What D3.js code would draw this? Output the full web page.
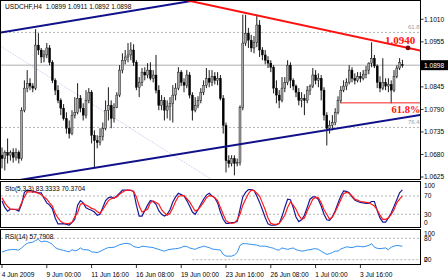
<!DOCTYPE html>
<html>
<head>
<meta charset="utf-8">
<script src="https://d3js.org/d3.v7.min.js"></script>
<style>
    body { margin: 0; background: #fff; }
    svg { display: block; font-family: "Liberation Sans", Arial, sans-serif; }
    .lbl { font-size: 6.6px; fill: #000; white-space: pre; }
    .lvl { stroke: #b4b4b4; stroke-dasharray: 2,2; stroke-width: 1; fill: none; }
    .frame { fill: none; stroke: #000; stroke-width: 1; }
</style>
</head>
<body>
<svg width="448" height="280"></svg>
<script>
// USDCHF H4, one value per bar (bar 0 = 4 Jun 2009 08:00)
var opens = [1.0678,1.0670,1.0685,1.0678,1.0685,1.0673,1.0685,1.0670,1.0788,1.0842,
    1.0854,1.0847,1.0842,1.0947,1.0935,1.0918,1.0923,1.0940,1.0905,1.0861,
    1.0837,1.0812,1.0793,1.0768,1.0744,1.0731,1.0776,1.0783,1.0817,1.0793,
    1.0776,1.0812,1.0832,1.0727,1.0714,1.0709,1.0724,1.0744,1.0788,1.0800,
    1.0768,1.0795,1.0825,1.0886,1.0910,1.0918,1.0923,1.0935,1.0905,1.0844,
    1.0856,1.0881,1.0874,1.0886,1.0866,1.0874,1.0837,1.0800,1.0812,1.0788,
    1.0798,1.0805,1.0825,1.0842,1.0881,1.0856,1.0849,1.0874,1.0825,1.0788,
    1.0800,1.0812,1.0832,1.0849,1.0866,1.0856,1.0871,1.0861,1.0866,1.0817,
    1.0751,1.0665,1.0658,1.0670,1.0658,1.0660,1.0795,1.0952,1.0976,1.0959,
    1.0940,1.0954,1.0996,1.0935,1.0923,1.0910,1.0903,1.0893,1.0842,1.0825,
    1.0812,1.0842,1.0856,1.0898,1.0861,1.0847,1.0832,1.0812,1.0817,1.0812,
    1.0837,1.0847,1.0874,1.0861,1.0866,1.0837,1.0776,1.0744,1.0751,1.0758,
    1.0783,1.0812,1.0837,1.0847,1.0856,1.0886,1.0866,1.0861,1.0871,1.0866,
    1.0876,1.0886,1.0903,1.0915,1.0896,1.0856,1.0842,1.0856,1.0847,1.0851,
    1.0837,1.0871,1.0891,1.0899];
var highs = [1.0697,1.0690,1.0719,1.0690,1.0695,1.0695,1.0690,1.0795,1.0861,1.0886,
    1.0866,1.0854,1.0986,1.0976,1.0940,1.0935,1.0952,1.0947,1.0910,1.0866,
    1.0849,1.0817,1.0803,1.0783,1.0763,1.0788,1.0820,1.0854,1.0825,1.0805,
    1.0837,1.0842,1.0837,1.0739,1.0727,1.0744,1.0758,1.0812,1.0844,1.0812,
    1.0805,1.0832,1.0898,1.0927,1.0935,1.0952,1.0954,1.0949,1.0910,1.0869,
    1.0891,1.0893,1.0903,1.0905,1.0886,1.0923,1.0849,1.0825,1.0820,1.0812,
    1.0820,1.0849,1.0854,1.0893,1.0886,1.0866,1.0886,1.0881,1.0832,1.0820,
    1.0822,1.0842,1.0861,1.0891,1.0886,1.0886,1.0881,1.0881,1.0874,1.0825,
    1.0758,1.0678,1.0678,1.0678,1.0670,1.0800,1.1021,1.1021,1.0989,1.0972,
    1.0969,1.1021,1.1008,1.0942,1.0935,1.0920,1.0910,1.0898,1.0861,1.0837,
    1.0869,1.0869,1.0910,1.0905,1.0866,1.0851,1.0842,1.0832,1.0827,1.0847,
    1.0851,1.0891,1.0886,1.0878,1.0874,1.0844,1.0783,1.0763,1.0776,1.0793,
    1.0822,1.0847,1.0861,1.0866,1.0898,1.0893,1.0878,1.0881,1.0881,1.0886,
    1.0896,1.0905,1.0954,1.0923,1.0900,1.0871,1.0915,1.0866,1.0866,1.0861,
    1.0886,1.0898,1.0915,1.0911];
var lows = [1.0646,1.0641,1.0658,1.0665,1.0660,1.0665,1.0658,1.0665,1.0783,1.0832,
    1.0837,1.0832,1.0837,1.0923,1.0903,1.0905,1.0915,1.0898,1.0854,1.0825,
    1.0805,1.0776,1.0763,1.0731,1.0719,1.0727,1.0768,1.0778,1.0783,1.0763,
    1.0768,1.0805,1.0707,1.0648,1.0695,1.0702,1.0714,1.0739,1.0763,1.0744,
    1.0758,1.0793,1.0820,1.0878,1.0900,1.0905,1.0910,1.0896,1.0837,1.0820,
    1.0847,1.0861,1.0866,1.0861,1.0856,1.0829,1.0788,1.0788,1.0763,1.0768,
    1.0763,1.0758,1.0812,1.0837,1.0847,1.0832,1.0842,1.0817,1.0763,1.0783,
    1.0793,1.0805,1.0825,1.0842,1.0844,1.0847,1.0851,1.0849,1.0812,1.0731,
    1.0636,1.0648,1.0651,1.0629,1.0651,1.0653,1.0788,1.0945,1.0940,1.0930,
    1.0927,1.0942,1.0918,1.0910,1.0900,1.0891,1.0881,1.0829,1.0805,1.0793,
    1.0807,1.0832,1.0849,1.0842,1.0837,1.0820,1.0800,1.0795,1.0776,1.0805,
    1.0825,1.0842,1.0851,1.0844,1.0812,1.0763,1.0702,1.0731,1.0739,1.0751,
    1.0778,1.0805,1.0832,1.0837,1.0851,1.0856,1.0851,1.0856,1.0856,1.0861,
    1.0866,1.0876,1.0893,1.0891,1.0842,1.0832,1.0837,1.0837,1.0832,1.0805,
    1.0832,1.0866,1.0886,1.0892];
var closes = [1.0670,1.0685,1.0678,1.0685,1.0673,1.0685,1.0670,1.0788,1.0842,1.0854,
    1.0847,1.0842,1.0947,1.0935,1.0918,1.0923,1.0940,1.0905,1.0861,1.0837,
    1.0812,1.0793,1.0768,1.0744,1.0731,1.0776,1.0783,1.0817,1.0793,1.0776,
    1.0812,1.0832,1.0727,1.0714,1.0709,1.0724,1.0744,1.0788,1.0800,1.0768,
    1.0795,1.0825,1.0886,1.0910,1.0918,1.0923,1.0935,1.0905,1.0844,1.0856,
    1.0881,1.0874,1.0886,1.0866,1.0874,1.0837,1.0800,1.0812,1.0788,1.0798,
    1.0805,1.0825,1.0842,1.0881,1.0856,1.0849,1.0874,1.0825,1.0788,1.0800,
    1.0812,1.0832,1.0849,1.0866,1.0856,1.0871,1.0861,1.0866,1.0817,1.0751,
    1.0665,1.0658,1.0670,1.0658,1.0660,1.0795,1.0952,1.0976,1.0959,1.0940,
    1.0954,1.0996,1.0935,1.0923,1.0910,1.0903,1.0893,1.0842,1.0825,1.0812,
    1.0842,1.0856,1.0898,1.0861,1.0847,1.0832,1.0812,1.0817,1.0812,1.0837,
    1.0847,1.0874,1.0861,1.0866,1.0837,1.0776,1.0744,1.0751,1.0758,1.0783,
    1.0812,1.0837,1.0847,1.0856,1.0886,1.0866,1.0861,1.0871,1.0866,1.0876,
    1.0886,1.0903,1.0915,1.0896,1.0856,1.0842,1.0856,1.0847,1.0851,1.0837,
    1.0871,1.0891,1.0905,1.0898];

// Stochastic(5,3,3): %K and %D
var stochK = [59,45,37,41,41,40,37,52,78,83, 82,81,79,77,77,65,55,50,42,22,
    9,9,9.5,8,6.5,12,19,50,60,55, 44,41,39,35,28,30,45,60,66,68,
    65,70,76,83,83,83,82,80,50,26, 26,38,50,60,58,52,38,30,26,30,
    40,57,68,76,73,70,60,48,35,30, 40,52,63,72,76,70,66,55,35,19,
    10,10,12,12,14,41,68,78,84,84, 82,70,56,40,23,9,6,6,7,10,
    25,45,63,62,45,24,14,18,28,45, 63,68,68,62,48,30,18,17,25,38,
    54,70,81,80,77,68,61,58,56,55, 54,54,58,58,38,22,13,13,22,33,
    47,62,77,83.3333];
var stochD = [66,55,47,41,41,41,41,55,68,79, 79,79,78,76,73,68,63,55,48,32,
    22,14,11,9.5,10,12,25,33,52,54, 50,47,43,41,36,32,40,50,60,64,
    66,68,74,78,82,83,83,80,68,48, 35,38,41,55,59,56,52,40,33,28,
    32,44,58,69,71,71,64,57,47,37, 40,48,56,66,71,70,66,60,45,30,
    16,12,10,11,18,30,50,63,75,83, 82,76,70,55,40,22,10,8,8,10,
    18,28,45,57,50,41,28,19,22,37, 50,63,67,66,55,40,30,19,24,35,
    48,62,75,78,76,70,63,61,58,57, 56,55,52,48,40,28,19,19,22,30,
    40,55,63,70.3704];
// RSI(14)
var rsi = [41.5,44,47,48,49,48,47,53,60,66, 68,69,74,77,70,72,71,68,63,54,
    50,48,46,44,42,48,45,47,53,48, 48,47,42,41,40,43,47,51,54,54,
    55,58,62,64,66,65,63,57,55,54, 58,57,56,55,54,51,49,46,44,47,
    49,50,51,52,54,58,57,53,51,49, 53,55,58,56,54,50,49,48,47,35,
    30,30,30,33,40,60,65,65,64,63, 62,61,58,58,58,56,54,52,48,47,
    53,51,49,51,53,48,46,44,45,47, 48,50,51,49,44,39,35,37,40,44,
    44,50,53,56,55,54,56,58,57,56, 58,60,65,55,52,51,52,53,48,55,
    58,60,59,57.7908];

var priceTicks = [1.1010, 1.0955, 1.0845, 1.0790, 1.0735, 1.0680, 1.0625];
var timeBars = [0, 16, 32, 48, 64, 80, 96, 112, 128];
var timeLabels = ["4 Jun 2009", "9 Jun 00:00", "11 Jun 16:00", "16 Jun 08:00", "19 Jun 00:00",
    "23 Jun 16:00", "26 Jun 08:00", "1 Jul 00:00", "3 Jul 16:00"];
var fibPrices = [1.0978, 1.0746];
var fibNames = ["61.8", "76.4"];
var stochLevels = [70, 30];
var stochTicks = [100, 70, 30, 0];
var rsiLevels = [80, 20];
var rsiTicks = [100, 80, 20, 0];

// trend lines as [bar, price] anchors
var blueUpper = [[0, 1.0978], [67, 1.1054]];
var blueLower = [[30, 1.0644], [140, 1.0766]];
var redLine = [[67, 1.1055], [145, 1.0940]];
var faintLine = [[0, 1.0942], [76, 1.0614]];
var targetPoint = [145, 1.0940];
var retraceLevel = [121, 1.0806];

var svg = d3.select("svg");
var fmt = d3.format(".4f");
var last = closes.length - 1;

var plotR = 420.5;
var xBar = d3.scaleLinear().domain([0, 143]).range([2, 402.4]);
var yPrice = d3.scaleLinear().domain([1.0625, 1.1010]).range([177, 19.3]);
var yStoch = d3.scaleLinear().domain([0, 100]).range([228, 182.3]);
var yRsi = d3.scaleLinear().domain([20, 80]).range([259.7, 238.3]);

var panels = [
    {top: 0.5, bottom: 179.5},
    {top: 181.5, bottom: 227.5},
    {top: 229.5, bottom: 264.5}
];

svg.append("rect").attr("width", 448).attr("height", 280).attr("fill", "#fff");

var defs = svg.append("defs");
panels.forEach(function(p, k) {
    defs.append("clipPath").attr("id", "clip" + k).append("rect")
        .attr("x", 1).attr("y", p.top + 0.5).attr("width", plotR - 1.5).attr("height", p.bottom - p.top - 1);
});

// ---------- main price panel ----------
var main = svg.append("g").attr("clip-path", "url(#clip0)");

main.selectAll("line.fib").data(fibPrices).enter().append("line")
    .attr("class", "lvl")
    .attr("x1", 1).attr("x2", plotR)
    .attr("y1", function(d) { return yPrice(d); })
    .attr("y2", function(d) { return yPrice(d); });

main.append("line")
    .attr("x1", 1).attr("x2", plotR)
    .attr("y1", yPrice(closes[last])).attr("y2", yPrice(closes[last]))
    .attr("stroke", "#b0b0b0").attr("stroke-width", 1);

function trend(a) {
    var slope = (a[1][1] - a[0][1]) / (a[1][0] - a[0][0]);
    return [-2, 152].map(function(b) { return [b, a[0][1] + slope * (b - a[0][0])]; });
}
function drawTrend(a, color, w, dash) {
    var pts = trend(a);
    main.append("line")
        .attr("x1", xBar(pts[0][0])).attr("y1", yPrice(pts[0][1]))
        .attr("x2", xBar(pts[1][0])).attr("y2", yPrice(pts[1][1]))
        .attr("stroke", color).attr("stroke-width", w)
        .attr("stroke-dasharray", dash || null);
}
drawTrend(faintLine, "#c4cbee", 1, "1,1");

var bars = main.selectAll("g.bar").data(d3.range(closes.length)).enter().append("g");
bars.append("line")
    .attr("x1", function(i) { return xBar(i); })
    .attr("x2", function(i) { return xBar(i); })
    .attr("y1", function(i) { return yPrice(highs[i]); })
    .attr("y2", function(i) { return yPrice(lows[i]); })
    .attr("stroke", "#000").attr("stroke-width", 0.9);
bars.append("rect")
    .attr("x", function(i) { return xBar(i) - 1; })
    .attr("width", 2)
    .attr("y", function(i) { return yPrice(Math.max(opens[i], closes[i])); })
    .attr("height", function(i) { return Math.max(0.8, Math.abs(yPrice(opens[i]) - yPrice(closes[i]))); })
    .attr("fill", function(i) { return closes[i] > opens[i] ? "#a6a6a6" : "#000"; })
    .attr("stroke", "#000").attr("stroke-width", 0.4);

drawTrend(blueUpper, "#10108a", 2);
drawTrend(blueLower, "#10108a", 2);
drawTrend(redLine, "#ff1010", 2);

main.append("line")
    .attr("x1", xBar(retraceLevel[0])).attr("x2", plotR)
    .attr("y1", yPrice(retraceLevel[1])).attr("y2", yPrice(retraceLevel[1]))
    .attr("stroke", "#ff2020").attr("stroke-width", 1);

main.append("circle")
    .attr("cx", xBar(targetPoint[0])).attr("cy", yPrice(targetPoint[1]))
    .attr("r", 2.4).attr("fill", "#7a0a0a");

main.selectAll("text.fib").data(fibPrices).enter().append("text")
    .attr("x", 408).attr("y", function(d) { return yPrice(d) - 3.3; })
    .attr("font-size", "6px").attr("fill", "#a0a0a0")
    .text(function(d, k) { return fibNames[k]; });

svg.append("text")
    .attr("x", 385).attr("y", yPrice(targetPoint[1]) - 4.3)
    .attr("font-family", "'Liberation Serif', serif").attr("font-weight", "bold")
    .attr("font-size", "11px").attr("fill", "#ff1010")
    .text(fmt(targetPoint[1]));
svg.append("text")
    .attr("x", 391.5).attr("y", yPrice(retraceLevel[1]) + 10)
    .attr("font-family", "'Liberation Serif', serif").attr("font-weight", "bold")
    .attr("font-size", "10.5px").attr("fill", "#ff1010")
    .text("61.8%");

svg.append("text").attr("class", "lbl")
    .attr("x", 5).attr("y", 9)
    .text("USDCHF,H4  " + [opens[last], highs[last], lows[last], closes[last]].map(fmt).join(" "));

// price axis
priceTicks.forEach(function(v) {
    svg.append("line").attr("x1", plotR).attr("x2", plotR + 3)
        .attr("y1", yPrice(v)).attr("y2", yPrice(v)).attr("stroke", "#000").attr("stroke-width", 0.8);
    svg.append("text").attr("class", "lbl").attr("x", 424).attr("y", yPrice(v) + 2.4).text(fmt(v));
});
svg.append("rect").attr("x", 421).attr("y", yPrice(closes[last]) - 5).attr("width", 27).attr("height", 10).attr("fill", "#000");
svg.append("text").attr("class", "lbl").attr("x", 424).attr("y", yPrice(closes[last]) + 2.4)
    .attr("fill", "#fff").style("fill", "#fff").text(fmt(closes[last]));

// ---------- oscillators ----------
function clampLabel(y, p) { return Math.max(p.top + 4.5, Math.min(p.bottom - 4.5, y)); }

var sto = svg.append("g").attr("clip-path", "url(#clip1)");
sto.selectAll("line").data(stochLevels).enter().append("line").attr("class", "lvl")
    .attr("x1", 1).attr("x2", plotR)
    .attr("y1", function(d) { return yStoch(d); }).attr("y2", function(d) { return yStoch(d); });
var stoLine = d3.line().x(function(d, i) { return xBar(i); }).y(function(d) { return yStoch(d); });
sto.append("path").datum(stochK).attr("d", stoLine).attr("fill", "none").attr("stroke", "#1a1a96").attr("stroke-width", 1.2);
sto.append("path").datum(stochD).attr("d", stoLine).attr("fill", "none").attr("stroke", "#ff1a1a").attr("stroke-width", 1.2);
svg.append("text").attr("class", "lbl").attr("x", 5).attr("y", 190.5)
    .text("Sto(5,3,3) " + fmt(stochK[last]) + " " + fmt(stochD[last]));
stochTicks.forEach(function(v) {
    svg.append("text").attr("class", "lbl").attr("x", 424)
        .attr("y", clampLabel(yStoch(v), panels[1]) + 2.4).text(v);
});

var rs = svg.append("g").attr("clip-path", "url(#clip2)");
rs.selectAll("line").data(rsiLevels).enter().append("line").attr("class", "lvl")
    .attr("x1", function(d, k) { return k ? xBar(68) : 1; }).attr("x2", plotR)
    .attr("y1", function(d) { return yRsi(d); }).attr("y2", function(d) { return yRsi(d); });
var rsiLine = d3.line().x(function(d, i) { return xBar(i); }).y(function(d) { return yRsi(d); });
rs.append("path").datum(rsi).attr("d", rsiLine).attr("fill", "none").attr("stroke", "#2f8ff0").attr("stroke-width", 1);
svg.append("text").attr("class", "lbl").attr("x", 5).attr("y", 238.5)
    .text("RSI(14) " + fmt(rsi[last]));
rsiTicks.forEach(function(v) {
    svg.append("text").attr("class", "lbl").attr("x", 424)
        .attr("y", clampLabel(yRsi(v), panels[2]) + 2.4).text(v);
});

// frames
panels.forEach(function(p) {
    svg.append("rect").attr("class", "frame")
        .attr("x", 0.5).attr("y", p.top).attr("width", plotR - 0.5).attr("height", p.bottom - p.top);
});

// time axis
timeBars.forEach(function(b, k) {
    svg.append("line").attr("x1", xBar(b)).attr("x2", xBar(b))
        .attr("y1", 264.5).attr("y2", 268).attr("stroke", "#000").attr("stroke-width", 0.8);
    svg.append("text").attr("class", "lbl").attr("x", xBar(b) - 0.3).attr("y", 276.6).text(timeLabels[k]);
});
</script>
</body>
</html>
